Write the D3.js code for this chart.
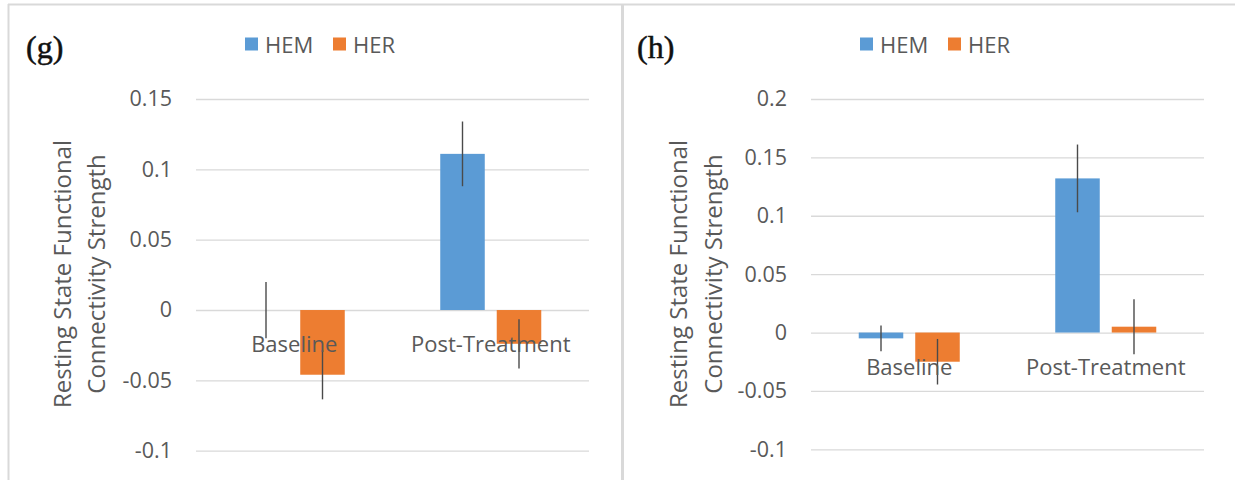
<!DOCTYPE html>
<html>
<head>
<meta charset="utf-8">
<script src="https://cdn.jsdelivr.net/npm/d3@7"></script>
<style>
  html, body { margin: 0; padding: 0; background: #ffffff; }
  svg { display: block; }
</style>
</head>
<body>
<svg id="chart" width="1235" height="480"></svg>
<script>
// ---- data ----
const categories = ["Baseline", "Post-Treatment"];
const seriesNames = ["HEM", "HER"];

// panel (g)
const gHEM = [0.0, 0.111];
const gHER = [-0.046, -0.024];
const gHEMerr = [0.020, 0.023];
const gHERerr = [0.0175, 0.0175];
const gTicks = [0.15, 0.1, 0.05, 0, -0.05, -0.1];
const gTickLabels = ["0.15", "0.1", "0.05", "0", "-0.05", "-0.1"];

// panel (h)
const hHEM = [-0.005, 0.132];
const hHER = [-0.025, 0.005];
const hHEMerr = [0.011, 0.029];
const hHERerr = [0.0195, 0.0235];
const hTicks = [0.2, 0.15, 0.1, 0.05, 0, -0.05, -0.1];
const hTickLabels = ["0.2", "0.15", "0.1", "0.05", "0", "-0.05", "-0.1"];

const yTitleLines = ["Resting State Functional", "Connectivity Strength"];
const colors = ["#5b9bd5", "#ed7d31"];
const textColor = "#595959";
const gridColor = "#d9d9d9";
const sans = "'Open Sans', 'DejaVu Sans', sans-serif";

const svg = d3.select("#chart");

// frame lines
svg.append("line").attr("x1", 8).attr("x2", 1235).attr("y1", 4.5).attr("y2", 4.5)
  .attr("stroke", gridColor).attr("stroke-width", 2);
svg.append("line").attr("x1", 8.5).attr("x2", 8.5).attr("y1", 4).attr("y2", 480)
  .attr("stroke", gridColor).attr("stroke-width", 2);
svg.append("line").attr("x1", 622.5).attr("x2", 622.5).attr("y1", 4).attr("y2", 480)
  .attr("stroke", gridColor).attr("stroke-width", 3);

function drawPanel(opt) {
  const g = svg.append("g").attr("transform", `translate(${opt.ox},0)`);
  const left = 188, right = 581;
  const y = d3.scaleLinear().domain(opt.domain).range([opt.bottom, 99]);
  const x0 = d3.scaleBand().domain(categories).range([left, right]).padding(0);
  const x1 = d3.scaleBand().domain(seriesNames).range([0, x0.bandwidth()])
    .paddingInner(0.212).paddingOuter(0.845);

  // gridlines + tick labels via axis
  const axis = d3.axisLeft(y).tickValues(opt.ticks)
    .tickFormat((d, i) => opt.tickLabels[i])
    .tickSize(-(right - left)).tickPadding(24);
  const ax = g.append("g").attr("transform", `translate(${left},0)`).call(axis);
  ax.select(".domain").remove();
  ax.selectAll(".tick line").attr("stroke", gridColor).attr("stroke-width", 1.3);
  ax.selectAll(".tick text").attr("fill", textColor)
    .style("font-family", sans).style("font-size", "21.5px");

  // bars
  const rows = categories.map((c, i) => ({
    cat: c,
    vals: seriesNames.map((s, j) => ({ s, j, v: opt.values[j][i], e: opt.errs[j][i] }))
  }));
  const grp = g.selectAll(".grp").data(rows).enter().append("g")
    .attr("transform", d => `translate(${x0(d.cat)},0)`);
  grp.selectAll("rect").data(d => d.vals).enter().append("rect")
    .attr("x", d => x1(d.s))
    .attr("width", x1.bandwidth())
    .attr("y", d => y(Math.max(0, d.v)))
    .attr("height", d => Math.abs(y(d.v) - y(0)))
    .attr("fill", d => colors[d.j]);

  // category labels
  g.selectAll(".cat").data(categories).enter().append("text")
    .attr("x", d => x0(d) + x0.bandwidth() / 2)
    .attr("y", y(0) + 33)
    .attr("text-anchor", "middle").attr("dominant-baseline", "central")
    .attr("fill", textColor).style("font-family", sans).style("font-size", "22px")
    .text(d => d);

  // error bars
  grp.selectAll("line.err").data(d => d.vals).enter().append("line")
    .attr("class", "err")
    .attr("x1", d => x1(d.s) + x1.bandwidth() / 2)
    .attr("x2", d => x1(d.s) + x1.bandwidth() / 2)
    .attr("y1", d => y(d.v + d.e))
    .attr("y2", d => y(d.v - d.e))
    .attr("stroke", "#4a4a4a").attr("stroke-width", 1.4);

  // y title
  const tt = g.append("text")
    .attr("transform", `translate(0,274) rotate(-90)`)
    .attr("text-anchor", "middle").attr("fill", textColor)
    .style("font-family", sans).style("font-size", "24px");
  yTitleLines.forEach((t, i) => {
    tt.append("tspan").attr("x", 0).attr("y", opt.titleX[i])
      .attr("dominant-baseline", "central").text(t);
  });

  // legend
  const leg = g.append("g");
  const legX = [237, 325];
  seriesNames.forEach((s, i) => {
    leg.append("rect").attr("x", legX[i]).attr("y", 37.5).attr("width", 13).attr("height", 13)
      .attr("fill", colors[i]);
    leg.append("text").attr("x", legX[i] + 20).attr("y", 44)
      .attr("dominant-baseline", "central").attr("fill", textColor)
      .style("font-family", sans).style("font-size", "22px").text(s);
  });

  // panel letter
  g.append("text").attr("x", opt.letterX).attr("y", 58)
    .attr("fill", "#111111")
    .attr("stroke", "#111111").attr("stroke-width", 0.5)
    .style("font-family", "'Liberation Serif', 'Times New Roman', serif")
    .style("font-size", "32px")
    .text(opt.letter);
}

drawPanel({
  ox: 8, domain: [-0.1, 0.15], bottom: 450.7,
  ticks: gTicks, tickLabels: gTickLabels,
  values: [gHEM, gHER], errs: [gHEMerr, gHERerr],
  titleX: [53, 87], letter: "(g)", letterX: 18
});
drawPanel({
  ox: 623, domain: [-0.1, 0.2], bottom: 449.3,
  ticks: hTicks, tickLabels: hTickLabels,
  values: [hHEM, hHER], errs: [hHEMerr, hHERerr],
  titleX: [54, 89], letter: "(h)", letterX: 14
});
</script>
</body>
</html>
